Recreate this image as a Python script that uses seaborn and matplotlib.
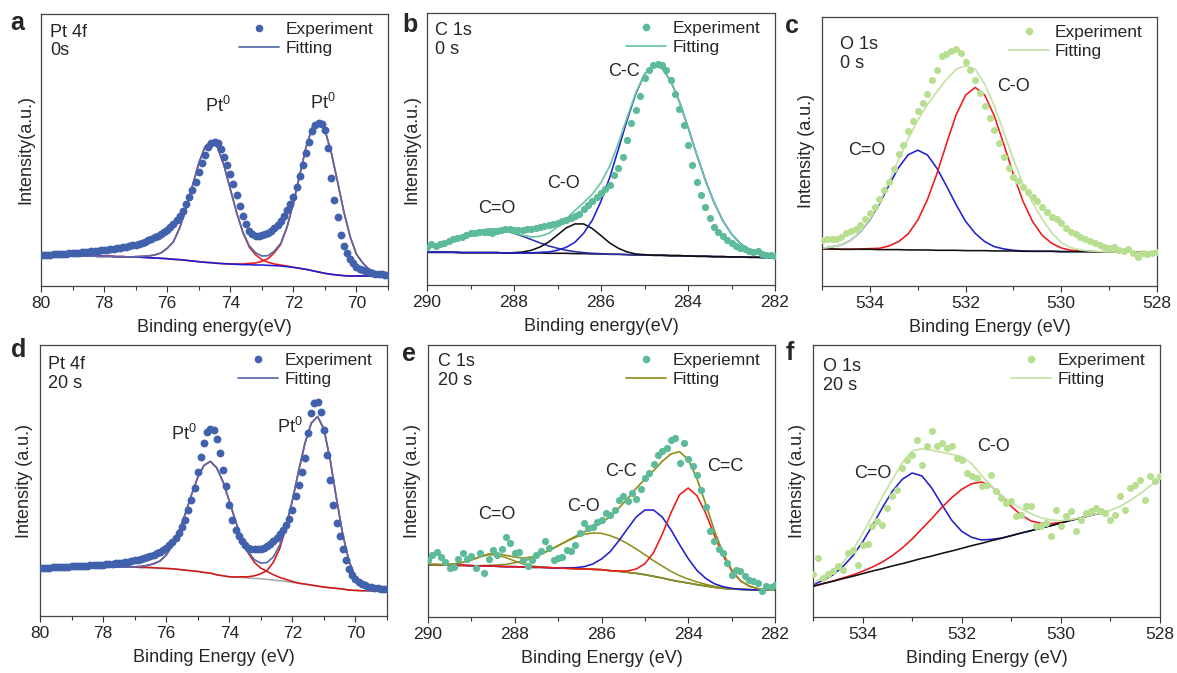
import matplotlib
matplotlib.use("Agg")
import matplotlib.pyplot as plt
import seaborn as sns
from matplotlib.lines import Line2D
from matplotlib.ticker import MultipleLocator

sns.set_style("white")
plt.rcParams["font.family"] = ["Liberation Sans", "DejaVu Sans"]
plt.rcParams["mathtext.fontset"] = "custom"
plt.rcParams["mathtext.rm"] = "Liberation Sans"
plt.rcParams["mathtext.it"] = "Liberation Sans:italic"

# ---------------- binding energy grids (eV) ----------------
pt_be = [80.0, 79.9, 79.8, 79.7, 79.6, 79.5, 79.4, 79.3, 79.2, 79.1,
         79.0, 78.9, 78.8, 78.7, 78.6, 78.5, 78.4, 78.3, 78.2, 78.1,
         78.0, 77.9, 77.8, 77.7, 77.6, 77.5, 77.4, 77.3, 77.2, 77.1,
         77.0, 76.9, 76.8, 76.7, 76.6, 76.5, 76.4, 76.3, 76.2, 76.1,
         76.0, 75.9, 75.8, 75.7, 75.6, 75.5, 75.4, 75.3, 75.2, 75.1,
         75.0, 74.9, 74.8, 74.7, 74.6, 74.5, 74.4, 74.3, 74.2, 74.1,
         74.0, 73.9, 73.8, 73.7, 73.6, 73.5, 73.4, 73.3, 73.2, 73.1,
         73.0, 72.9, 72.8, 72.7, 72.6, 72.5, 72.4, 72.3, 72.2, 72.1,
         72.0, 71.9, 71.8, 71.7, 71.6, 71.5, 71.4, 71.3, 71.2, 71.1,
         71.0, 70.9, 70.8, 70.7, 70.6, 70.5, 70.4, 70.3, 70.2, 70.1,
         70.0, 69.9, 69.8, 69.7, 69.6, 69.5, 69.4, 69.3, 69.2, 69.1,
         69.0]
pt_be_fit = [80.0, 79.8, 79.6, 79.4, 79.2, 79.0, 78.8, 78.6, 78.4, 78.2,
             78.0, 77.8, 77.6, 77.4, 77.2, 77.0, 76.8, 76.6, 76.4, 76.2,
             76.0, 75.8, 75.6, 75.4, 75.2, 75.0, 74.8, 74.6, 74.4, 74.2,
             74.0, 73.8, 73.6, 73.4, 73.2, 73.0, 72.8, 72.6, 72.4, 72.2,
             72.0, 71.8, 71.6, 71.4, 71.2, 71.0, 70.8, 70.6, 70.4, 70.2,
             70.0, 69.8, 69.6, 69.4, 69.2, 69.0]
c_be = [290.0, 289.9, 289.8, 289.7, 289.6, 289.5, 289.4, 289.3, 289.2, 289.1,
        289.0, 288.9, 288.8, 288.7, 288.6, 288.5, 288.4, 288.3, 288.2, 288.1,
        288.0, 287.9, 287.8, 287.7, 287.6, 287.5, 287.4, 287.3, 287.2, 287.1,
        287.0, 286.9, 286.8, 286.7, 286.6, 286.5, 286.4, 286.3, 286.2, 286.1,
        286.0, 285.9, 285.8, 285.7, 285.6, 285.5, 285.4, 285.3, 285.2, 285.1,
        285.0, 284.9, 284.8, 284.7, 284.6, 284.5, 284.4, 284.3, 284.2, 284.1,
        284.0, 283.9, 283.8, 283.7, 283.6, 283.5, 283.4, 283.3, 283.2, 283.1,
        283.0, 282.9, 282.8, 282.7, 282.6, 282.5, 282.4, 282.3, 282.2, 282.1,
        282.0]
c_be_fit = [290.0, 289.8, 289.6, 289.4, 289.2, 289.0, 288.8, 288.6, 288.4, 288.2,
            288.0, 287.8, 287.6, 287.4, 287.2, 287.0, 286.8, 286.6, 286.4, 286.2,
            286.0, 285.8, 285.6, 285.4, 285.2, 285.0, 284.8, 284.6, 284.4, 284.2,
            284.0, 283.8, 283.6, 283.4, 283.2, 283.0, 282.8, 282.6, 282.4, 282.2,
            282.0]
o_be = [535.0, 534.9, 534.8, 534.7, 534.6, 534.5, 534.4, 534.3, 534.2, 534.1,
        534.0, 533.9, 533.8, 533.7, 533.6, 533.5, 533.4, 533.3, 533.2, 533.1,
        533.0, 532.9, 532.8, 532.7, 532.6, 532.5, 532.4, 532.3, 532.2, 532.1,
        532.0, 531.9, 531.8, 531.7, 531.6, 531.5, 531.4, 531.3, 531.2, 531.1,
        531.0, 530.9, 530.8, 530.7, 530.6, 530.5, 530.4, 530.3, 530.2, 530.1,
        530.0, 529.9, 529.8, 529.7, 529.6, 529.5, 529.4, 529.3, 529.2, 529.1,
        529.0, 528.9, 528.8, 528.7, 528.6, 528.5, 528.4, 528.3, 528.2, 528.1,
        528.0]
o_be_fit = [535.0, 534.8, 534.6, 534.4, 534.2, 534.0, 533.8, 533.6, 533.4, 533.2,
            533.0, 532.8, 532.6, 532.4, 532.2, 532.0, 531.8, 531.6, 531.4, 531.2,
            531.0, 530.8, 530.6, 530.4, 530.2, 530.0, 529.8, 529.6, 529.4, 529.2,
            529.0, 528.8, 528.6, 528.4, 528.2, 528.0]

# ---------------- (a) Pt 4f, 0 s ----------------
a_exp = [93, 93, 94, 94, 95, 95, 96, 96, 97, 98, 98,
         99, 100, 101, 102, 103, 104, 105, 106, 107, 108,
         109, 111, 112, 113, 115, 116, 118, 120, 122, 124,
         127, 130, 133, 137, 141, 146, 151, 156, 162, 169,
         177, 186, 197, 210, 226, 246, 266, 288, 313, 343,
         368, 393, 416, 428, 433, 428, 412, 388, 363, 336,
         306, 273, 240, 210, 186, 166, 155, 151, 150, 152,
         155, 159, 164, 173, 183, 196, 210, 228, 247, 268,
         296, 330, 363, 398, 433, 466, 484, 490, 486, 468,
         413, 323, 258, 206, 153, 120, 98, 81, 68, 58,
         52, 47, 44, 41, 39, 37, 36, 35, 34, 33]
a_bg = [90, 90, 90, 90, 90, 90, 90, 90, 90, 89,
        89, 89, 88, 88, 87, 87, 86, 85, 84, 83,
        82, 80, 79, 77, 75, 73, 71, 70, 68, 67,
        66, 65, 64, 64, 63, 63, 62, 61, 60, 58,
        56, 53, 50, 46, 42, 38, 35, 33, 31, 30,
        30, 30, 30, 30, 30, 30]
a_pk1 = a_bg[:14] + [87, 88, 89, 90, 93, 99, 113, 133, 175, 232, 300, 368, 418,
                     436, 415, 362, 291, 220, 160, 117, 94, 79, 71, 66, 63, 60] + a_bg[40:]
a_pk2 = a_bg[:31] + [66, 66, 68, 69, 74, 82, 100, 125, 176, 248, 333, 416, 476,
                     496, 468, 401, 313, 223, 148, 95, 69, 50, 41, 36, 34]
a_env = a_bg[:14] + [87, 88, 89, 90, 93, 99, 113, 133, 175, 232, 300, 368, 418,
                     436, 415, 362, 291, 221, 162, 121, 100, 90, 91, 105, 128, 178,
                     248, 333, 416, 476, 496, 468, 401, 313, 223, 148, 95, 69, 50,
                     41, 36, 34]

# ---------------- (d) Pt 4f, 20 s ----------------
d_exp = [144, 144, 145, 145, 146, 146, 147, 147, 148, 148, 149,
         149, 150, 150, 151, 151, 152, 152, 153, 153, 154,
         155, 156, 157, 158, 159, 160, 162, 163, 165, 167,
         169, 171, 174, 177, 180, 184, 188, 193, 199, 205,
         214, 223, 235, 250, 268, 290, 318, 350, 385, 432,
         478, 520, 552, 563, 558, 532, 490, 440, 390, 335,
         288, 260, 240, 225, 214, 206, 202, 200, 200, 202,
         205, 210, 217, 225, 235, 247, 260, 273, 292, 320,
         360, 395, 432, 475, 550, 612, 640, 645, 615, 560,
         485, 410, 335, 280, 240, 202, 167, 140, 122, 110,
         102, 96, 92, 88, 86, 84, 83, 82, 81, 80]
d_bg = [144, 144, 145, 145, 146, 146, 146, 147, 147, 147,
        147, 147, 147, 147, 147, 147, 146, 146, 145, 144,
        143, 142, 140, 138, 136, 134, 131, 129, 124, 121,
        118, 117, 116, 114, 113, 112, 110, 108, 106, 104,
        101, 98, 96, 93, 90, 87, 85, 83, 81, 78,
        77, 76, 76, 75, 75, 75]
d_pk1 = d_bg[:15] + [148, 149, 152, 157, 165, 183, 213, 254, 306, 364, 417, 453,
                     465, 446, 404, 346, 285, 230, 189, 161, 144, 134, 124, 116,
                     110, 104, 99] + d_bg[42:]
d_pk2 = d_bg[:32] + [118, 118, 121, 127, 137, 162, 203, 266, 346, 436, 520, 580,
                     600, 562, 469, 352, 244, 164, 116, 92, 82, 77, 75, 75]
d_env = d_bg[:15] + [148, 149, 152, 157, 165, 183, 213, 254, 306, 364, 417, 453,
                     465, 446, 404, 346, 285, 232, 193, 169, 159, 161, 178, 213,
                     272, 349, 437, 520, 580, 600, 562, 469, 352, 244, 164, 116,
                     92, 82, 77, 75, 75]

# ---------------- (b) C 1s, 0 s ----------------
b_exp = [115, 123, 117, 122, 127, 133, 137, 140, 143, 149, 155,
         155, 159, 160, 159, 155, 161, 165, 167, 167, 166,
         165, 166, 167, 169, 171, 173, 176, 179, 183, 187,
         191, 195, 201, 207, 214, 229, 240, 253, 265, 275,
         287, 300, 330, 350, 385, 435, 485, 525, 565, 620,
         643, 659, 663, 659, 645, 615, 573, 527, 480, 420,
         360, 310, 270, 233, 200, 175, 160, 147, 135, 125,
         117, 110, 107, 103, 100, 103, 93, 90, 90, 88]
b_bg = [98, 98, 98, 98, 97, 97, 97, 97, 97, 96,
        96, 96, 96, 96, 95, 95, 95, 94, 94, 93,
        93, 92, 92, 91, 90, 90, 89, 89, 88, 88,
        87, 86, 86, 85, 85, 84, 84, 83, 83, 82,
        82]
b_cdo = [113, 120, 128, 138, 147, 156, 163, 167, 167, 162, 155, 146, 136, 126,
         117, 110, 104, 100, 97, 95, 94] + b_bg[21:]
b_co = b_bg[:10] + [97, 99, 104, 114, 129, 150, 171, 183, 183, 169, 148, 126,
                    110, 99, 93, 91] + b_bg[26:]
b_cc = b_bg[:13] + [98, 99, 104, 113, 128, 155, 194, 251, 322, 407, 494, 573,
                    631, 658, 650, 612, 550, 473, 391, 314, 247, 193, 153, 125,
                    106, 95, 88, 85]
b_env = [113, 120, 128, 138, 147, 156, 163, 167, 167, 162,
         156, 149, 144, 146, 155, 174, 198, 223, 247, 272,
         307, 356, 425, 502, 576, 632, 658, 650, 612, 550,
         473, 391, 314, 247, 193, 153, 125, 106, 95, 88,
         85]

# ---------------- (e) C 1s, 20 s ----------------
e_exp = [172, 185, 194, 180, 165, 147, 150, 174, 192, 175, 184,
         147, 192, 132, 174, 200, 187, 205, 240, 222, 192,
         194, 170, 152, 170, 185, 197, 229, 207, 172, 178,
         180, 200, 197, 215, 252, 282, 267, 270, 284, 290,
         312, 307, 322, 352, 364, 347, 372, 354, 383, 418,
         433, 458, 485, 498, 508, 531, 538, 461, 521, 473,
         453, 427, 382, 330, 257, 227, 205, 192, 162, 127,
         142, 137, 122, 112, 108, 102, 77, 92, 90, 97]
e_bg = [157, 157, 156, 155, 155, 154, 153, 153, 152, 151,
        151, 150, 149, 149, 148, 147, 146, 145, 144, 143,
        142, 139, 137, 134, 131, 127, 122, 117, 111, 106,
        102, 97, 93, 89, 86, 84, 83, 82, 81, 81,
        81]
e_cdo = [157, 157, 157, 159, 164, 171, 180, 187, 186, 178, 168, 159, 153,
         150] + e_bg[14:]
e_co = e_bg[:5] + [154, 154, 155, 156, 158, 163, 168, 176, 188, 200, 214, 227,
                   239, 248, 252, 251, 244, 234, 220, 204, 187, 169, 153, 137,
                   124, 114, 105, 98, 92, 88, 85] + e_bg[36:]
e_cc = e_bg[:16] + [147, 148, 151, 159, 174, 196, 229, 265, 300, 321, 321, 300,
                    262, 217, 175, 140, 116, 100, 91, 86, 83] + e_bg[37:]
e_cdc = e_bg[:22] + [138, 138, 144, 160, 193, 248, 312, 367, 387, 364, 312, 246,
                     185, 139, 109, 93, 85, 82, 81]
e_env = [157, 157, 157, 159, 164, 171, 181, 189, 190, 185,
         180, 177, 180, 189, 200, 214, 228, 242, 255, 268,
         283, 301, 327, 355, 386, 414, 439, 467, 489, 496,
         472, 415, 340, 260, 192, 142, 109, 93, 85, 82,
         81]

# ---------------- (c) O 1s, 0 s ----------------
c_exp = [138, 140, 142, 140, 146, 158, 166, 170, 183, 200, 218,
         238, 260, 288, 313, 350, 396, 423, 463, 493, 523,
         548, 576, 618, 648, 688, 696, 703, 710, 698, 670,
         648, 618, 578, 538, 503, 468, 428, 388, 353, 328,
         316, 298, 283, 268, 256, 238, 223, 208, 200, 188,
         173, 163, 156, 146, 140, 136, 130, 124, 118, 114,
         116, 108, 106, 110, 100, 86, 98, 96, 100, 102]
c_bg = [111, 111, 110, 110, 110, 110, 109, 109, 109, 108,
        108, 108, 107, 107, 107, 106, 106, 106, 105, 105,
        105, 104, 104, 104, 104, 103, 103, 103, 103, 102,
        102, 102, 102, 101, 101, 101]
c_cdo = [113, 117, 123, 137, 162, 198, 246, 302, 355, 393, 407, 393, 353, 300,
         244, 194, 158, 133, 118, 111, 107, 105] + c_bg[22:]
c_co = c_bg[:4] + [111, 112, 113, 120, 133, 156, 197, 258, 336, 426, 512, 572,
                   595, 572, 510, 424, 334, 254, 193, 152, 128, 114, 107, 105,
                   104] + c_bg[29:]
c_env = [113, 117, 123, 137, 163, 200, 250, 313, 379, 441,
         496, 543, 582, 619, 649, 660, 650, 605, 540, 460,
         380, 305, 250, 200, 160, 130, 115, 108, 105, 103,
         102, 102, 102, 101, 101, 101]

# ---------------- (f) O 1s, 20 s ----------------
f_exp = [130, 177, 117, 128, 137, 152, 140, 192, 202, 157, 217,
         220, 272, 287, 277, 327, 362, 382, 447, 472, 487,
         532, 457, 512, 557, 512, 522, 507, 514, 477, 472,
         432, 422, 417, 392, 397, 427, 377, 357, 342, 347,
         302, 307, 332, 332, 272, 272, 282, 242, 322, 272,
         302, 317, 257, 292, 312, 317, 327, 317, 312, 292,
         307, 362, 322, 387, 397, 412, 352, 422, 407, 422]
f_bg = [92, 100, 107, 115, 122, 130, 138, 145, 153, 160,
        168, 176, 183, 191, 198, 206, 214, 221, 229, 236,
        244, 252, 259, 267, 274, 282, 290, 297, 305, 312]
f_cdo = [96, 110, 126, 151, 183, 225, 275, 328, 377, 413,
         432, 423, 386, 337, 290, 257, 239, 231, 233, 237] + f_bg[20:]
f_co = [92, 100, 108, 117, 126, 137, 150, 165, 184, 207,
        234, 265, 296, 329, 358, 383, 400, 405, 392, 363,
        332, 306, 288, 281, 280, 284, 291, 297, 305, 312]
f_env = [100, 120, 140, 163, 200, 250, 305, 362, 412, 462,
         498, 505, 500, 494, 488, 481, 460, 425, 392, 365,
         342, 325, 310, 297, 291, 289, 292, 297, 305, 312,
         320, 332, 350, 370, 393, 415]

# colours
PT_DOT, PT_FIT = "#4261ad", "#5a6aaa"
C_DOT, C_FIT = "#5dbb9a", "#6cc6a6"
O_DOT, O_FIT = "#b8df8f", "#c6e2a6"
OLIVE = "#8f8f1f"
RED, BLUE, NAVY = "#f01818", "#1f1fd0", "#2e2ea8"

fig = plt.figure(figsize=(11.77, 6.73), dpi=100)
W, H = 1177, 673


def make_ax(x0, y0, x1, y1):
    return fig.add_axes([x0 / W, 1 - y1 / H, (x1 - x0) / W, (y1 - y0) / H])


def draw(ax, be, exp, dot_col, dot_s, lines, env_be, env, fit_col,
         xlim, ytop, major, exp_label, corner, corner_xy, peaks,
         xlabel, ylabel):
    for xs, ys, col in lines:
        sns.lineplot(x=xs, y=ys, ax=ax, color=col, linewidth=1.15,
                     sort=False, estimator=None, legend=False)
    sns.lineplot(x=env_be, y=env, ax=ax, color=fit_col, linewidth=1.25,
                 sort=False, estimator=None, legend=False)
    sns.scatterplot(x=be, y=exp, ax=ax, color=dot_col, s=dot_s,
                    linewidth=0, zorder=3, legend=False)
    ax.set_xlim(*xlim)
    ax.set_ylim(0, ytop)
    ax.xaxis.set_major_locator(MultipleLocator(major))
    ax.xaxis.set_minor_locator(MultipleLocator(major / 2))
    ax.set_yticks([])
    ax.tick_params(axis="x", which="major", direction="out", length=4,
                   width=0.8, labelsize=12.5, pad=3, bottom=True, color="#333333")
    ax.tick_params(axis="x", which="minor", direction="out", length=3,
                   width=0.8, bottom=True, color="#333333")
    for sp in ax.spines.values():
        sp.set_color("#444444")
        sp.set_linewidth(0.9)
    ax.set_xlabel(xlabel, fontsize=13, labelpad=6)
    ax.set_ylabel(ylabel, fontsize=13, labelpad=5)
    ax.text(corner_xy[0], corner_xy[1], corner, transform=ax.transAxes,
            ha="left", va="top", fontsize=13, linespacing=1.15)
    for x, y, t in peaks:
        ax.text(x, y, t, ha="center", va="baseline", fontsize=13)
    handles = [Line2D([], [], ls="", marker="o", ms=5.5, color=dot_col, mec="none"),
               Line2D([], [], color=fit_col, lw=1.25)]
    ax.legend(handles, [exp_label, "Fitting"], loc="upper right",
              bbox_to_anchor=(0.98, 1.0), frameon=False,
              fontsize=12.5, handlelength=2.3, handletextpad=0.35,
              labelspacing=0.2, borderaxespad=0.25, borderpad=0.2)


pt0 = "Pt$^{0}$"

ax_a = make_ax(41, 14, 388, 286)
draw(ax_a, pt_be, a_exp, PT_DOT, 32,
     [(pt_be_fit, a_pk1, RED), (pt_be_fit, a_pk2, RED), (pt_be_fit, a_bg, "#1c1cd8")],
     pt_be_fit, a_env, PT_FIT, (80, 69), 816, 2, "Experiment",
     "Pt 4f\n0s", (0.026, 0.965), [(74.4, 522, pt0), (71.05, 531, pt0)],
     "Binding energy(eV)", "Intensity(a.u.)")

ax_b = make_ax(427, 13, 775, 285)
draw(ax_b, c_be, b_exp, C_DOT, 27,
     [(c_be_fit, b_bg, "#111111"), (c_be_fit, b_cdo, NAVY),
      (c_be_fit, b_co, "#111111"), (c_be_fit, b_cc, BLUE)],
     c_be_fit, b_env, C_FIT, (290, 282), 815, 2, "Experiment",
     "C 1s\n0 s", (0.023, 0.968),
     [(288.39, 215, "C=O"), (286.87, 290, "C-O"), (285.48, 625, "C-C")],
     "Binding energy(eV)", "Intensity(a.u.)")

ax_c = make_ax(822, 17, 1157, 286)
draw(ax_c, o_be, c_exp, O_DOT, 26,
     [(o_be_fit, c_cdo, BLUE), (o_be_fit, c_co, RED), (o_be_fit, c_bg, "#111111")],
     o_be_fit, c_env, O_FIT, (535, 528), 806, 2, "Experiment",
     "O 1s\n0 s", (0.054, 0.93),
     [(534.07, 393, "C=O"), (530.99, 583, "C-O")],
     "Binding Energy (eV)", "Intensity (a.u.)")

ax_d = make_ax(40, 345, 387, 616)
draw(ax_d, pt_be, d_exp, PT_DOT, 32,
     [(pt_be_fit, d_bg, "#a8a8a8"), (pt_be_fit, d_pk1, "#d01818"),
      (pt_be_fit, d_pk2, "#d01818")],
     pt_be_fit, d_env, PT_FIT, (80, 69), 815, 2, "Experiment",
     "Pt 4f\n20 s", (0.023, 0.96), [(75.45, 530, pt0), (72.07, 550, pt0)],
     "Binding Energy (eV)", "Intensity (a.u.)")

ax_e = make_ax(428, 345, 775, 617)
draw(ax_e, c_be, e_exp, C_DOT, 27,
     [(c_be_fit, e_bg, "#2a4a2a"), (c_be_fit, e_cdo, OLIVE), (c_be_fit, e_co, OLIVE),
      (c_be_fit, e_cc, BLUE), (c_be_fit, e_cdc, RED)],
     c_be_fit, e_env, OLIVE, (290, 282), 816, 2, "Experiemnt",
     "C 1s\n20 s", (0.029, 0.97),
     [(288.41, 293, "C=O"), (286.41, 318, "C-O"), (285.56, 423, "C-C"),
      (283.14, 438, "C=C")],
     "Binding Energy (eV)", "Intensity (a.u.)")

ax_f = make_ax(813, 345, 1160, 617)
draw(ax_f, o_be, f_exp, O_DOT, 26,
     [(o_be_fit[:30], f_cdo, BLUE), (o_be_fit[:30], f_co, RED),
      (o_be_fit[:30], f_bg, "#111111")],
     o_be_fit, f_env, O_FIT, (535, 528), 816, 2, "Experiment",
     "O 1s\n20 s", (0.029, 0.952),
     [(533.80, 418, "C=O"), (531.36, 498, "C-O")],
     "Binding Energy (eV)", "Intensity (a.u.)")

for lab, px, py in [("a", 10, 30), ("b", 402, 32), ("c", 785, 33),
                    ("d", 11, 357), ("e", 402, 361), ("f", 786, 360)]:
    fig.text(px / W, 1 - py / H, lab, fontsize=18, fontweight="bold",
             ha="left", va="baseline")

fig.savefig("out.png", dpi=100)
